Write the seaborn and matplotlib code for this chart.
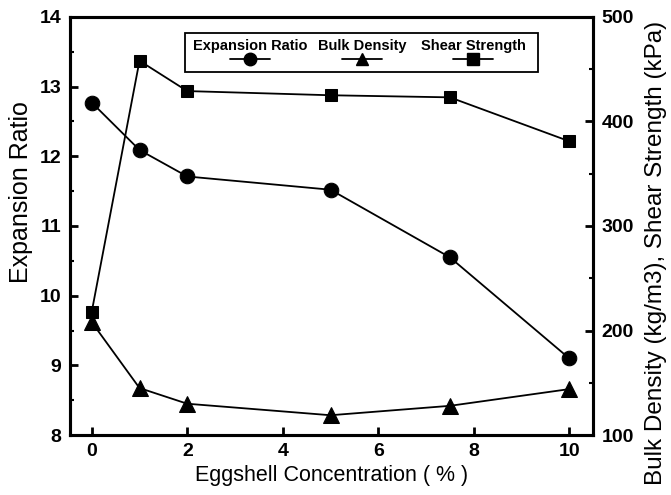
import numpy as np
import pandas as pd
import seaborn as sns
import matplotlib.pyplot as plt
from matplotlib.patches import Rectangle
from matplotlib.ticker import MultipleLocator

# données
concentration = [0, 1, 2, 5, 7.5, 10]
expansion_ratio = [12.77, 12.09, 11.71, 11.52, 10.55, 9.10]
bulk_density = [208, 145, 130, 119, 128, 144]
shear_strength = [218, 458, 429, 425, 423, 381]

legend_labels = ["Expansion Ratio", "Bulk Density", "Shear Strength"]
legend_markers = ["o", "^", "s"]

sns.set_style("ticks")
plt.rcParams['font.family'] = ['Liberation Sans', 'DejaVu Sans']
plt.rcParams['text.color'] = 'black'
plt.rcParams['axes.labelcolor'] = 'black'
plt.rcParams['xtick.color'] = 'black'
plt.rcParams['ytick.color'] = 'black'

fig = plt.figure(figsize=(6.71, 4.95), dpi=100)
ax = fig.add_axes([0.104, 0.121, 0.78, 0.845])
ax2 = ax.twinx()

# courbe expansion (axe gauche)
sns.lineplot(x=concentration, y=expansion_ratio, ax=ax, color='black', marker='o',
             markersize=10.5, markeredgecolor='black', linewidth=1.3)
# densité et résistance (axe droit)
sns.lineplot(x=concentration, y=bulk_density, ax=ax2, color='black', marker='^',
             markersize=11, markeredgecolor='black', linewidth=1.3)
sns.lineplot(x=concentration, y=shear_strength, ax=ax2, color='black', marker='s',
             markersize=9, markeredgecolor='black', linewidth=1.3)

ax.set_xlim(-0.46, 10.5)
ax.set_ylim(8, 14)
ax2.set_ylim(100, 500)
ax.set_xticks([0, 2, 4, 6, 8, 10])
ax.set_yticks(range(8, 15))
ax.yaxis.set_minor_locator(MultipleLocator(0.5))
ax2.set_yticks(range(100, 501, 100))
ax2.yaxis.set_minor_locator(MultipleLocator(50))

for a in (ax, ax2):
    for s in a.spines.values():
        s.set_linewidth(2.2)
        s.set_color('black')
    a.tick_params(which='major', direction='in', length=6, width=2, color='black',
                  labelsize=14, pad=6)
    a.tick_params(which='minor', direction='in', length=3, width=1.5, color='black')
    for lab in a.get_xticklabels() + a.get_yticklabels():
        lab.set_fontweight('bold')

ax.set_xlabel("Eggshell Concentration ( % )", fontsize=15.5, labelpad=3)
ax.set_ylabel("Expansion Ratio", fontsize=18, labelpad=5)
ax2.set_ylabel("Bulk Density (kg/m3), Shear Strength (kPa)", fontsize=17.5, labelpad=8)
ax.yaxis.label.set_y(0.58)
ax2.yaxis.label.set_y(0.435)

# légende dessinée à la main : texte au-dessus, symbole en dessous
ax2.add_patch(Rectangle((0.22, 0.869), 0.675, 0.093, transform=ax2.transAxes,
                        facecolor='white', edgecolor='black', linewidth=1.3, zorder=5))
for cx, lab, m in zip([0.344, 0.558, 0.771], legend_labels, legend_markers):
    ax2.text(cx, 0.931, lab, transform=ax2.transAxes, ha='center', va='center',
             fontsize=10.5, fontweight='bold', zorder=6)
    ax2.plot([cx - 0.038, cx, cx + 0.038], [0.899] * 3, transform=ax2.transAxes,
             color='black', linewidth=1.3, marker=m, markevery=[1], markersize=9,
             zorder=6, clip_on=False)

fig.savefig("out.png", dpi=100)
